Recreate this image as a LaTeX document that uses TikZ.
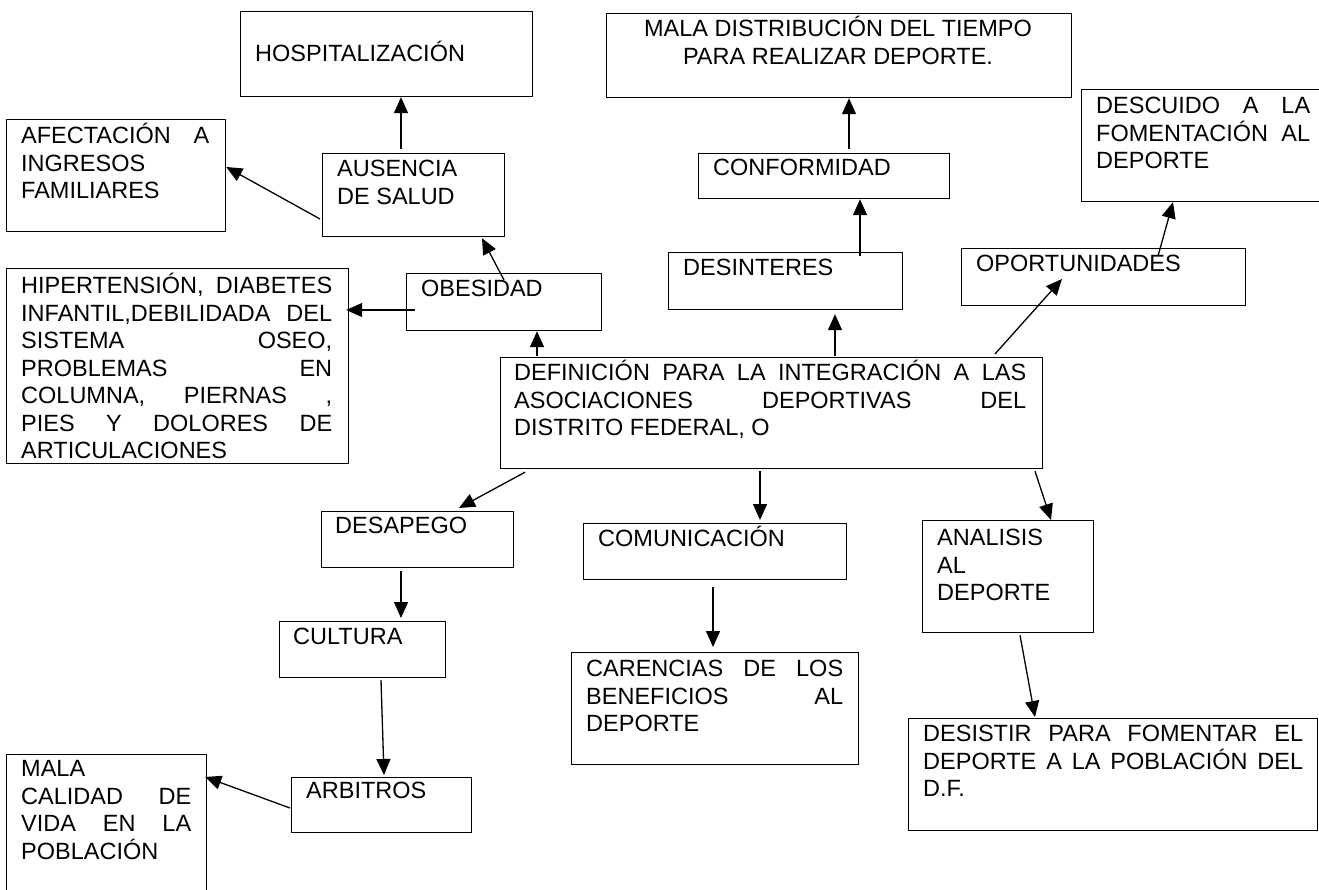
\documentclass[tikz,border=0pt]{standalone}
\usepackage{fontspec}
\setmainfont{Liberation Sans}
\usetikzlibrary{arrows.meta,calc}
\newcommand\tstrut{\rule{0pt}{23pt}}
\newcommand\jl[2]{\makebox[#1pt][s]{#2}}
\begin{document}
\begin{tikzpicture}[x=1pt,y=-1pt,
  box/.style={draw, line width=1.2pt, inner sep=0pt, anchor=north west},
  txt/.style={inner sep=0pt, anchor=north west, align=left, font=\fontsize{23.5}{27.5}\selectfont},
  arr/.style={line width=1.3pt, -{Triangle[length=16pt,width=14pt]}}]
\clip (0,0) rectangle (1319,890);
\fill[white] (0,0) rectangle (1319,890);
% boxes
\node[box, minimum width=292pt, minimum height=85pt] (hosp) at (240,11) {};
\node[box, minimum width=219pt, minimum height=112pt] (afect) at (6,119) {};
\node[box, minimum width=182pt, minimum height=83pt] (ausen) at (322,153) {};
\node[box, minimum width=342pt, minimum height=195pt] (hiper) at (6,268) {};
\node[box, minimum width=195pt, minimum height=57pt] (obes) at (406,273) {};
\node[box, minimum width=542pt, minimum height=111pt] (defin) at (500,357) {};
\node[box, minimum width=465pt, minimum height=84pt] (maladist) at (606,13) {};
\node[box, minimum width=260pt, minimum height=112pt] (descu) at (1081,89) {};
\node[box, minimum width=251pt, minimum height=45pt] (conf) at (698,153) {};
\node[box, minimum width=234pt, minimum height=57pt] (desint) at (668,252) {};
\node[box, minimum width=284pt, minimum height=57pt] (oport) at (961,248) {};
\node[box, minimum width=192pt, minimum height=56pt] (desap) at (321,511) {};
\node[box, minimum width=166pt, minimum height=56pt] (cult) at (279,621) {};
\node[box, minimum width=180pt, minimum height=55pt] (arbit) at (291,777) {};
\node[box, minimum width=200pt, minimum height=160pt] (malacal) at (6,754) {};
\node[box, minimum width=263pt, minimum height=56pt] (comun) at (583,523) {};
\node[box, minimum width=287pt, minimum height=112pt] (caren) at (571,652) {};
\node[box, minimum width=171pt, minimum height=112pt] (anal) at (922,520) {};
\node[box, minimum width=409pt, minimum height=112pt] (desist) at (908,718) {};
% texts
\node[txt] (thosp) at (255,38.5) {\tstrut HOSPITALIZACIÓN};
\node[txt] (tafect) at (21,120.5) {\tstrut\jl{188}{AFECTACIÓN A}\\INGRESOS\\FAMILIARES};
\node[txt] (tausen) at (337,153.5) {\tstrut AUSENCIA\\DE SALUD};
\node[txt] (thiper) at (21,270.5) {\tstrut\jl{311}{HIPERTENSIÓN, DIABETES}\\\jl{311}{INFANTIL,DEBILIDADA DEL}\\\jl{311}{SISTEMA OSEO,}\\\jl{311}{PROBLEMAS EN}\\\jl{311}{COLUMNA, PIERNAS ,}\\\jl{311}{PIES Y DOLORES DE}\\ARTICULACIONES};
\node[txt] (tobes) at (421,273.5) {\tstrut OBESIDAD};
\node[txt] (tdefin) at (514,357.5) {\tstrut\jl{512}{DEFINICIÓN PARA LA INTEGRACIÓN A LAS}\\\jl{512}{ASOCIACIONES DEPORTIVAS DEL}\\DISTRITO FEDERAL, O};
\node[txt, anchor=north, align=center] (tmaladist) at (838,13.5) {\tstrut MALA DISTRIBUCIÓN DEL TIEMPO\\PARA REALIZAR DEPORTE.};
\node[txt] (tdescu) at (1096,90.5) {\tstrut\jl{214}{DESCUIDO A LA}\\\jl{214}{FOMENTACIÓN AL}\\DEPORTE};
\node[txt] (tconf) at (713,152.5) {\tstrut CONFORMIDAD};
\node[txt] (tdesint) at (683,252.5) {\tstrut DESINTERES};
\node[txt] (toport) at (976,248.5) {\tstrut OPORTUNIDADES};
\node[txt] (tdesap) at (335,510.5) {\tstrut DESAPEGO};
\node[txt] (tcult) at (293,621.5) {\tstrut CULTURA};
\node[txt] (tarbit) at (306,775.5) {\tstrut ARBITROS};
\node[txt] (tmalacal) at (21,753.5) {\tstrut MALA\\\jl{170}{CALIDAD DE}\\\jl{170}{VIDA EN LA}\\POBLACIÓN};
\node[txt] (tcomun) at (598,523.5) {\tstrut COMUNICACIÓN};
\node[txt] (tcaren) at (586,653.5) {\tstrut\jl{257}{CARENCIAS DE LOS}\\\jl{257}{BENEFICIOS AL}\\DEPORTE};
\node[txt] (tanal) at (937,522.5) {\tstrut ANALISIS\\AL\\DEPORTE};
\node[txt] (tdesist) at (923,718.5) {\tstrut\jl{380}{DESISTIR PARA FOMENTAR EL}\\\jl{380}{DEPORTE A LA POBLACIÓN DEL}\\D.F.};
% arrows
\draw[arr] ($(ausen.north west)+(79,-4)$) -- ($(hosp.south west)+(161,0)$);
\draw[arr] ($(ausen.north west)+(-2,66)$) -- ($(afect.north east)+(0,48)$);
\draw[arr] ($(obes.north west)+(9,37)$) -- ($(hiper.north east)+(-3,42)$);
\draw[arr] ($(obes.north west)+(98,7)$) -- ($(ausen.south west)+(160,1)$);
\draw[arr] ($(defin.north west)+(37,-1)$) -- ($(obes.south west)+(131,0)$);
\draw[arr] ($(conf.north west)+(151,-4)$) -- ($(maladist.south west)+(243,0)$);
\draw[arr] ($(desint.north west)+(192,4)$) -- ($(conf.south west)+(162,0)$);
\draw[arr] ($(defin.north west)+(335,-1)$) -- ($(desint.south west)+(167,4)$);
\draw[arr] ($(defin.north west)+(495,-3)$) -- ($(oport.north west)+(101,31)$);
\draw[arr] ($(oport.north west)+(197,8)$) -- ($(descu.south west)+(92,0)$);
\draw[arr] ($(defin.south west)+(25,3)$) -- ($(desap.north west)+(138,-3)$);
\draw[arr] ($(desap.south west)+(80,3)$) -- ($(cult.north west)+(122,-3)$);
\draw[arr] ($(cult.south west)+(102,2)$) -- ($(arbit.north west)+(93,-2)$);
\draw[arr] ($(arbit.north west)+(-1,31)$) -- ($(malacal.north east)+(-2,23)$);
\draw[arr] ($(defin.south west)+(260,2)$) -- ($(comun.north west)+(177,-3)$);
\draw[arr] ($(comun.south west)+(130,7)$) -- ($(caren.north west)+(142,-5)$);
\draw[arr] ($(defin.south west)+(535,2)$) -- ($(anal.north west)+(129,0)$);
\draw[arr] ($(anal.south west)+(98,2)$) -- ($(desist.north west)+(127,-1)$);
\end{tikzpicture}
\end{document}
